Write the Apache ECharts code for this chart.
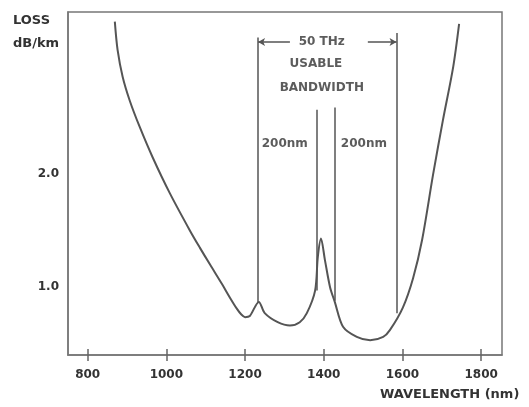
<!DOCTYPE html>
<html>
<head>
<meta charset="utf-8">
<script src="https://cdn.jsdelivr.net/npm/echarts@6/dist/echarts.min.js"></script>
<style>
  html, body { margin: 0; padding: 0; background: #fff; }
  #chart { width: 529px; height: 407px; }
</style>
</head>
<body>
<div id="chart"></div>
<script>
// attenuation curve (nm, dB/km)
const wavelengths = [869, 876, 889, 907, 932, 965, 1009, 1060, 1085, 1111, 1141, 1162, 1179, 1190, 1200, 1212, 1235, 1250, 1283, 1314, 1339, 1357, 1378, 1385, 1393, 1403, 1416, 1428, 1449, 1484, 1518, 1551, 1568, 1601, 1627, 1650, 1678, 1703, 1729, 1744]
const losses = [3.35, 3.10, 2.86, 2.65, 2.42, 2.15, 1.83, 1.50, 1.35, 1.20, 1.03, 0.905, 0.81, 0.76, 0.735, 0.745, 0.87, 0.77, 0.69, 0.66, 0.69, 0.77, 0.97, 1.27, 1.43, 1.24, 1.00, 0.87, 0.65, 0.56, 0.53, 0.56, 0.62, 0.82, 1.08, 1.42, 2.00, 2.48, 2.95, 3.33]

const xTicks = [800, 1000, 1200, 1400, 1600, 1800]
const yTicks = [1.0, 2.0]

// vertical marker lines
const markerX = [1233, 1381, 1429, 1585]
const markerTop = [3.21, 2.57, 2.59, 3.25]
const markerBottom = [0.87, 0.97, 0.88, 0.77]

// 50 THz arrow
const arrowY = 3.17
const arrowFrom = [1314, 1512]
const arrowTo = [1233, 1585]

// annotation texts
const noteText = ['50 THz', 'USABLE', 'BANDWIDTH', '200nm', '200nm']
const noteX = [1395, 1380, 1395, 1301, 1502]
const noteY = [3.17, 2.98, 2.76, 2.27, 2.27]

const FONT = 'DejaVu Sans'
const TXT = '#333'
const LINE = '#555'

const chart = echarts.init(document.getElementById('chart'))

const curveData = wavelengths.map((w, i) => [w, losses[i]])
const markerLines = markerX.map((x, i) => [
  { coord: [x, markerBottom[i]] },
  { coord: [x, markerTop[i]] }
])
const arrowLines = arrowFrom.map((x, i) => [
  { coord: [x, arrowY] },
  { coord: [arrowTo[i], arrowY] }
])
const notes = noteText.map((t, i) => [noteX[i], noteY[i], t])

chart.setOption({
  animation: false,
  grid: {
    left: 68,
    right: 27,
    top: 12,
    bottom: 52,
    show: true,
    borderColor: '#777',
    borderWidth: 1.5
  },
  xAxis: [
    {
      type: 'value',
      min: 750,
      max: 1853,
      axisLine: { show: true, lineStyle: { color: '#777', width: 1.5 } },
      axisTick: { show: true, customValues: xTicks, length: 6, lineStyle: { color: '#666', width: 1.5 } },
      axisLabel: {
        customValues: xTicks,
        formatter: v => String(v),
        margin: 14,
        color: TXT,
        fontFamily: FONT,
        fontWeight: 'bold',
        fontSize: 12
      },
      splitLine: { show: false }
    },
    {
      // second axis only to make the ticks cross the axis line
      type: 'value',
      min: 750,
      max: 1853,
      position: 'bottom',
      axisLine: { show: false },
      axisTick: { show: true, inside: true, customValues: xTicks, length: 6, lineStyle: { color: '#666', width: 1.5 } },
      axisLabel: { show: false },
      splitLine: { show: false }
    }
  ],
  yAxis: {
    type: 'value',
    min: 0.4,
    max: 3.435,
    axisLine: { show: true, lineStyle: { color: '#777', width: 1.5 } },
    axisTick: { show: false },
    axisLabel: {
      customValues: yTicks,
      formatter: v => v.toFixed(1),
      margin: 9,
      color: TXT,
      fontFamily: FONT,
      fontWeight: 'bold',
      fontSize: 12
    },
    splitLine: { show: false }
  },
  graphic: [
    { type: 'text', left: 13, top: 14, style: { text: 'LOSS', fill: TXT, font: 'bold 13px "DejaVu Sans"' } },
    { type: 'text', left: 13, top: 37, style: { text: 'dB/km', fill: TXT, font: 'bold 13px "DejaVu Sans"' } },
    { type: 'text', left: 380, top: 388, style: { text: 'WAVELENGTH (nm)', fill: TXT, font: 'bold 13px "DejaVu Sans"' } }
  ],
  series: [
    {
      name: 'loss',
      type: 'line',
      data: curveData,
      smooth: 0.3,
      showSymbol: false,
      lineStyle: { color: LINE, width: 2 },
      silent: true,
      markLine: {
        silent: true,
        symbol: ['none', 'none'],
        label: { show: false },
        lineStyle: { color: LINE, width: 1.5, type: 'solid' },
        data: markerLines
      }
    },
    {
      name: 'arrow',
      type: 'line',
      data: [],
      markLine: {
        silent: true,
        symbol: ['none', 'arrow'],
        symbolSize: [6, 7],
        label: { show: false },
        lineStyle: { color: LINE, width: 1.5, type: 'solid' },
        data: arrowLines
      }
    },
    {
      name: 'notes',
      type: 'scatter',
      data: notes,
      symbolSize: 1,
      itemStyle: { color: 'transparent' },
      silent: true,
      label: {
        show: true,
        position: 'inside',
        formatter: p => p.data[2],
        color: TXT,
        fontFamily: FONT,
        fontWeight: 'bold',
        fontSize: 12
      }
    }
  ]
})
</script>
</body>
</html>
